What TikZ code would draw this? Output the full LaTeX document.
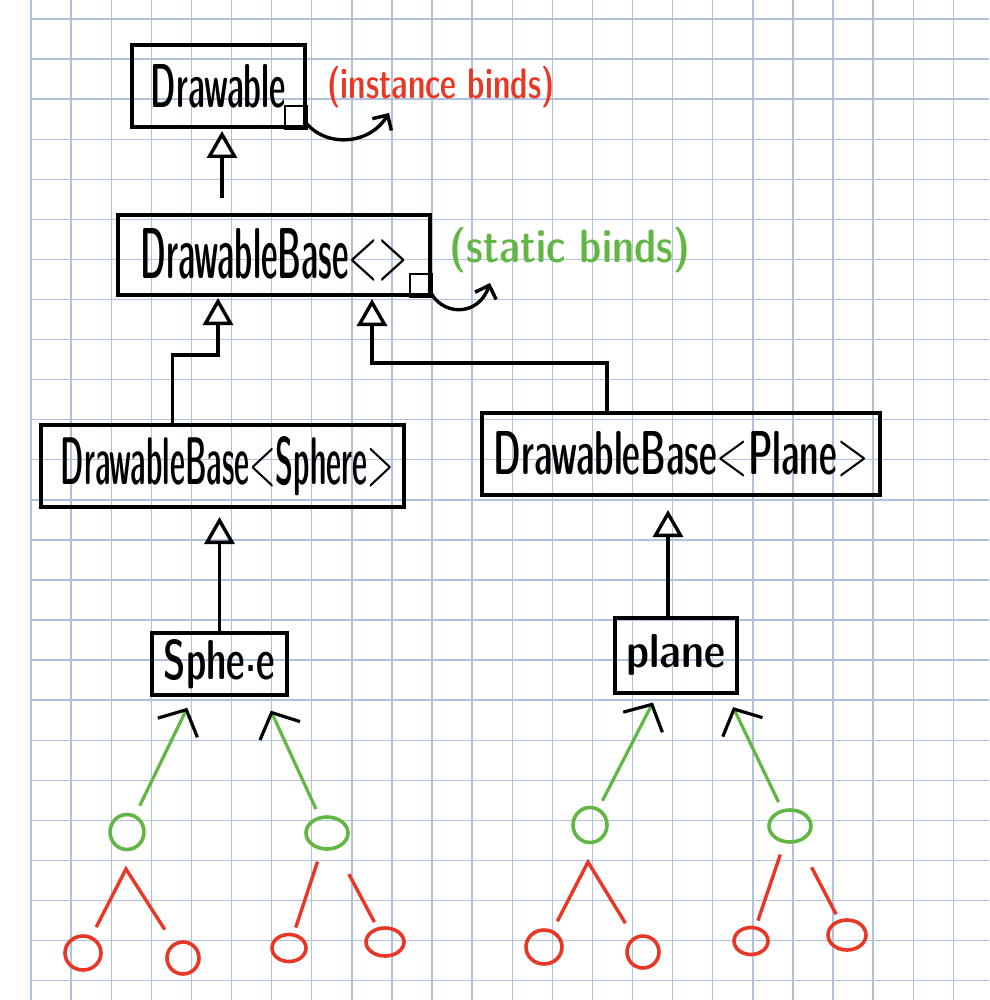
\documentclass[tikz,border=0pt]{standalone}
\usepackage{xcolor}
\usepackage{graphicx}
\usepackage{tikz}
\usetikzlibrary{arrows.meta, shapes.geometric, positioning}

\definecolor{gridblue}{RGB}{178,193,219}
\definecolor{penred}{RGB}{233,55,38}
\definecolor{pengreen}{RGB}{98,182,68}

% hand written label: width, height, text
\newcommand{\pen}[3]{\resizebox{#1pt}{#2pt}{\sffamily\fontseries{sbc}\selectfont #3}}

\begin{document}
\begin{tikzpicture}[x=1pt, y=-1pt,
    gridline/.style={gridblue, line width=1.4pt},
    classbox/.style={draw, line width=4pt, inner sep=0pt},
    inherit/.style={line width=3.4pt, -{Triangle[open,scale=1.5,length=18pt,width=20pt]}},
    bind/.style={line width=3.4pt, -{Straight Barb[scale=1.4,length=8pt,width=16pt]}},
    uses/.style={pengreen, line width=3.2pt, -{Straight Barb[color=black,scale=2,length=10pt,width=22pt]}},
    leaf/.style={ellipse, draw=#1, line width=3.6pt, inner sep=0pt},
    leafline/.style={penred, line width=3.4pt}]
  \useasboundingbox (0,0) rectangle (989,1000);
  \fill[white] (0,0) rectangle (989,1000);
  % squared paper
  \foreach \i in {0,...,23}
    \draw[gridline] ({31+40.1*\i},0) -- ({31+40.1*\i},1000);
  \foreach \j in {0,...,24}
    \draw[gridline] (31,{19+40.07*\j}) -- (989,{19+40.07*\j});

  % classes
  \node[classbox, minimum width=173pt, minimum height=82pt] (drawable) at (218.5,86) {\pen{135}{43}{Drawable}};
  \node[classbox, minimum width=312pt, minimum height=80pt] (base) at (274,255) {\pen{267}{50}{DrawableBase<>}};
  \node[classbox, minimum width=363pt, minimum height=82pt] (basesphere) at (222.5,466) {\hspace*{10pt}\pen{333}{48}{DrawableBase<Sphere>}};
  \node[classbox, minimum width=398pt, minimum height=82pt] (baseplane) at (681,454) {\pen{375}{43}{DrawableBase<Plane>}};
  \node[classbox, minimum width=135pt, minimum height=62pt] (sphere) at (219.5,664) {\pen{111}{40}{Sphe\raisebox{0.3ex}{.}e}};
  \node[classbox, minimum width=122pt, minimum height=75pt] (plane) at (676,655) {\pen{99}{33}{plane}};

  % bind notes
  \draw[line width=2.8pt] (drawable.south east) rectangle ++(-22,-23);
  \draw[line width=2.8pt] (base.south east) rectangle ++(-22,-23);
  \coordinate (instEnd) at (389,113);
  \coordinate (staticEnd) at (490,283);
  \draw[bind] (drawable.south east) ++(-3,-9) .. controls (322,147) and (368,147) .. (instEnd);
  \draw[bind] (base.south east) ++(-3,-8) .. controls (440,316) and (478,318) .. (staticEnd);
  \node[text=penred] (instlabel) at (441,87) {\pen{227}{32}{(instance binds)}};
  \node[text=pengreen] (staticlabel) at (570,250) {\pen{240}{35}{(static binds)}};

  % inheritance
  \draw[inherit, shorten <=15pt, shorten >=2pt] ([xshift=-52pt]base.north) -- ([xshift=3.5pt]drawable.south);
  \draw[inherit, shorten >=1pt] ([xshift=-50pt]basesphere.north) |- (218,355) -- ([xshift=-56pt]base.south);
  \draw[inherit, shorten >=2pt] ([xshift=-74pt]baseplane.north) |- (372,363) -- ([xshift=98pt]base.south);
  \draw[inherit, shorten >=8pt] (sphere.north) -- (sphere.north |- basesphere.south);
  \draw[inherit, shorten >=13pt] ([xshift=-8pt]plane.north) -- ([xshift=-8pt]plane.north |- baseplane.south);

  % objects
  \node[leaf=pengreen, minimum width=34pt, minimum height=35pt] (g1) at (127,832) {};
  \node[leaf=pengreen, minimum width=42pt, minimum height=32pt] (g2) at (327,833) {};
  \node[leaf=pengreen, minimum width=34pt, minimum height=35pt] (g3) at (590,825) {};
  \node[leaf=pengreen, minimum width=42pt, minimum height=32pt] (g4) at (790,826) {};
  \node[leaf=penred, minimum width=36pt, minimum height=34pt] (r1) at (83,953) {};
  \node[leaf=penred, minimum width=32pt, minimum height=32pt] (r2) at (183,958) {};
  \node[leaf=penred, minimum width=34pt, minimum height=27pt] (r3) at (289,948) {};
  \node[leaf=penred, minimum width=38pt, minimum height=28pt] (r4) at (385,942) {};
  \node[leaf=penred, minimum width=36pt, minimum height=34pt] (r5) at (544,947) {};
  \node[leaf=penred, minimum width=32pt, minimum height=32pt] (r6) at (643,952) {};
  \node[leaf=penred, minimum width=34pt, minimum height=27pt] (r7) at (751,941) {};
  \node[leaf=penred, minimum width=38pt, minimum height=30pt] (r8) at (847,935) {};

  \draw[uses, shorten <=10pt, shorten >=12pt] (g1) -- ([xshift=-27pt]sphere.south);
  \draw[uses, shorten <=8pt, shorten >=15pt] (g2) -- ([xshift=45pt]sphere.south);
  \draw[uses, shorten <=8pt, shorten >=9pt] (g3) -- ([xshift=-19pt]plane.south);
  \draw[uses, shorten <=8pt, shorten >=14pt] (g4) -- ([xshift=51pt]plane.south);

  \coordinate (p1) at (126,869);
  \coordinate (p3) at (588,862);
  \draw[leafline, shorten <=10pt, shorten >=16pt] (r1) -- (p1) -- (r2);
  \draw[leafline, shorten <=10pt, shorten >=16pt] (r5) -- (p3) -- (r6);
  \draw[leafline, shorten <=12pt, shorten >=6pt] (g2) -- (r3);
  \draw[leafline, shorten <=28pt, shorten >=6pt] (g2) -- (r4);
  \draw[leafline, shorten <=12pt, shorten >=6pt] (g4) -- (r7);
  \draw[leafline, shorten <=28pt, shorten >=6pt] (g4) -- (r8);
\end{tikzpicture}
\end{document}
